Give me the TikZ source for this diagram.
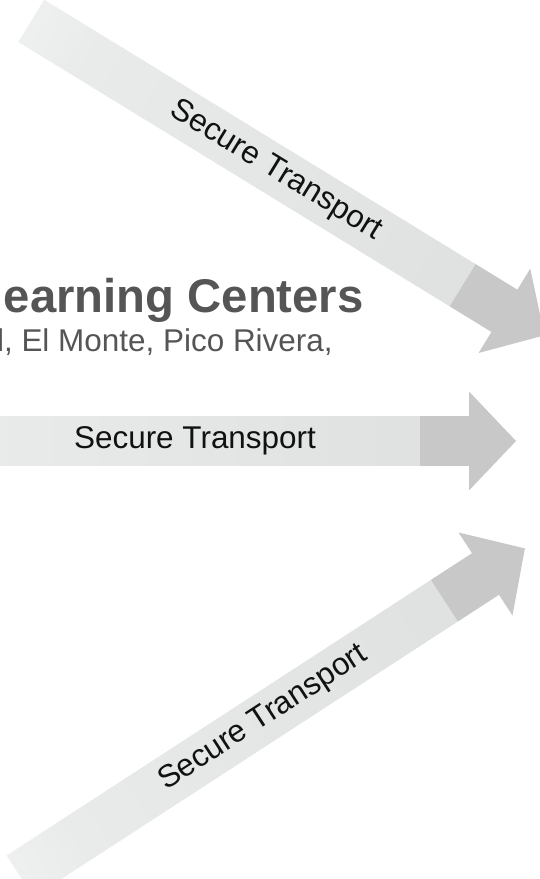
\documentclass[tikz,border=0pt]{standalone}
\usepackage{fontspec}
\setmainfont{Liberation Sans}
\usepackage{tikz}
\definecolor{shaftpale}{HTML}{F7F8F8}
\definecolor{shaftlight}{HTML}{E9EBEB}
\definecolor{shaftdark}{HTML}{DADCDC}
\definecolor{headgray}{HTML}{C8C8C8}
\definecolor{titlegray}{HTML}{555555}
\definecolor{labtext}{HTML}{111111}
\pgfdeclarehorizontalshading{shaftfade}{100bp}{color(0bp)=(white); color(14bp)=(shaftpale); color(32bp)=(shaftlight); color(100bp)=(shaftdark)}
\tikzset{
  shaft/.style={shading=shaftfade, draw=none},
  headpart/.style={fill=headgray, draw=none},
  lab/.style={text=labtext, font=\fontsize{17.9}{20}\selectfont, inner sep=0pt},
  headline/.style={text=titlegray, font=\fontsize{26.9}{30}\selectfont\bfseries, inner sep=0pt},
  subline/.style={text=titlegray, font=\fontsize{17.9}{20}\selectfont, inner sep=0pt}
}

\begin{document}
\begin{tikzpicture}[x=0.02cm, y=-0.02cm]
  \useasboundingbox (0,0) rectangle (539,879);

  \def\hw{24.8}
  \def\hh{49.5}
  \def\hl{47}
  \def\bl{49}
  \def\sl{555}

  % Top arrow
  \begin{scope}[transform canvas={shift={(504.4,310.8)}, rotate=-31.5}]
    \shade[shaft] (-\sl,-\hw) rectangle (-\bl,\hw);
    \fill[headpart] (-\bl,-\hw) -- (0,-\hw) -- (0,-\hh) -- (\hl,0) -- (0,\hh) -- (0,\hw) -- (-\bl,\hw) -- cycle;
    \node[lab] (topLab) at (-268,0) {Secure Transport};
  \end{scope}

  % Middle arrow
  \begin{scope}[transform canvas={shift={(469,441)}}]
    \shade[shaft] (-\sl,-\hw) rectangle (-\bl,\hw);
    \fill[headpart] (-\bl,-\hw) -- (0,-\hw) -- (0,-\hh) -- (\hl,0) -- (0,\hh) -- (0,\hw) -- (-\bl,\hw) -- cycle;
    \node[lab] (midLab) at (-274,0) {Secure Transport};
  \end{scope}

  % Bottom arrow
  \begin{scope}[transform canvas={shift={(485.5,574)}, rotate=33}]
    \shade[shaft] (-\sl,-\hw) rectangle (-\bl,\hw);
    \fill[headpart] (-\bl,-\hw) -- (0,-\hw) -- (0,-\hh) -- (\hl,0) -- (0,\hh) -- (0,\hw) -- (-\bl,\hw) -- cycle;
    \node[lab] (botLab) at (-265,0) {Secure Transport};
  \end{scope}

  \node[headline, anchor=base east] (centers) at (364,312) {earning Centers};
  \node[subline, anchor=base east] (towns) at (333,351) {l, El Monte, Pico Rivera,};
\end{tikzpicture}
\end{document}
